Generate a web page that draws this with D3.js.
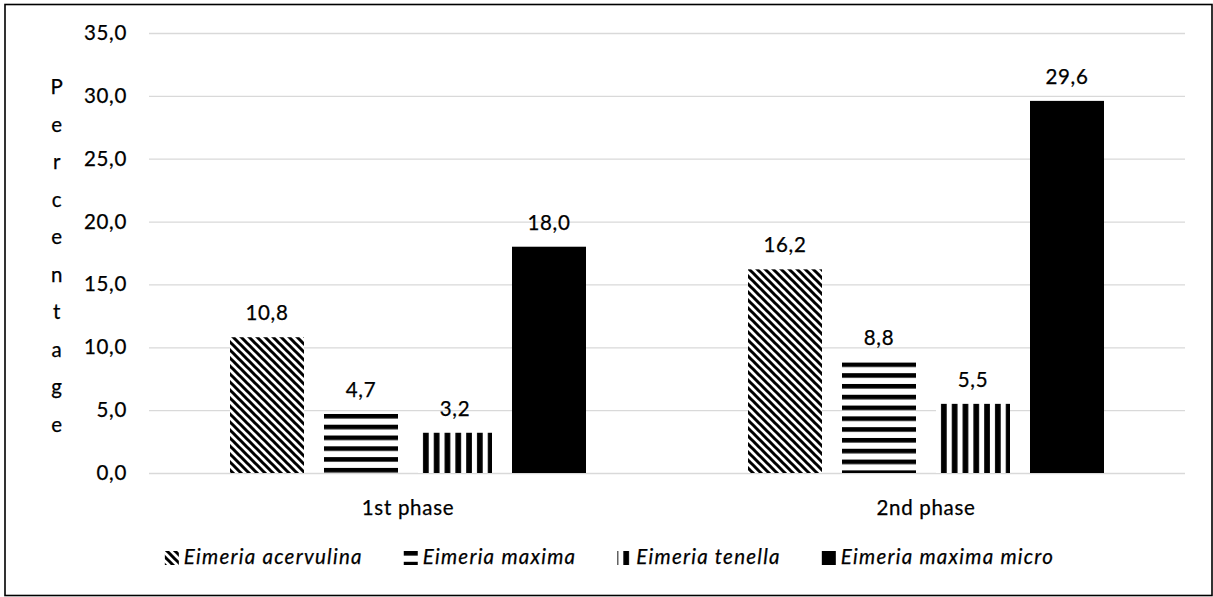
<!DOCTYPE html>
<html>
<head>
<meta charset="utf-8">
<script src="https://cdn.jsdelivr.net/npm/d3@7"></script>
<style>
  html, body { margin: 0; padding: 0; background: #fff; }
  svg { display: block; }
  text { font-family: Lato, "Open Sans", sans-serif; fill: #000; letter-spacing: 0.7px; stroke: #000; stroke-width: 0.25px; }
  .legend text { letter-spacing: 1.25px; }
</style>
</head>
<body>
<svg id="chart" width="1213" height="597"></svg>
<script>
// Chart data
const categories = ["1st phase", "2nd phase"];
const seriesNames = ["Eimeria acervulina", "Eimeria maxima", "Eimeria tenella", "Eimeria maxima micro"];
const acervulina = [10.8, 16.2];
const maxima = [4.7, 8.8];
const tenella = [3.2, 5.5];
const maximaMicro = [18.0, 29.6];
const yTicks = [0, 5, 10, 15, 20, 25, 30, 35];
const yTitle = "Percentage";

const seriesValues = [acervulina, maxima, tenella, maximaMicro];
const fills = ["diag", "horiz", "vert", "solid"];

const plot = { left: 149, right: 1185, top: 33, bottom: 473 };
const fontSize = 20.5;

const locale = d3.formatLocale({ decimal: ",", thousands: ".", grouping: [3], currency: ["", ""] });
const fmt = locale.format(".1f");

const svg = d3.select("#chart");
const defs = svg.append("defs");

// Outer frame
svg.append("rect")
  .attr("x", 5).attr("y", 4.5)
  .attr("width", 1207).attr("height", 591)
  .attr("fill", "#fff").attr("stroke", "#000").attr("stroke-width", 1.6);

const x0 = d3.scaleBand().domain(categories).range([plot.left, plot.right]);
const x1 = d3.scaleBand().domain(seriesNames).range([0, x0.bandwidth()])
  .paddingInner(20 / 94).paddingOuter(0.8617);
const y = d3.scaleLinear().domain([0, 35]).range([plot.bottom, plot.top]);

// Gridlines and value axis
const yAxis = d3.axisLeft(y)
  .tickValues(yTicks)
  .tickSize(-(plot.right - plot.left))
  .tickPadding(22)
  .tickFormat(fmt);
const gy = svg.append("g").attr("transform", `translate(${plot.left},0)`).call(yAxis);
gy.select(".domain").remove();
gy.selectAll(".tick line").attr("stroke", "#d9d9d9").attr("stroke-width", 1.3);
gy.selectAll(".tick text")
  .attr("font-size", fontSize).attr("font-family", "Lato, sans-serif").attr("fill", "#000");

// Vertical, letter-stacked axis title
svg.append("g").selectAll("text")
  .data(yTitle.split(""))
  .join("text")
  .attr("x", 57)
  .attr("y", (d, i) => 94 + i * 37.5)
  .attr("text-anchor", "middle")
  .attr("font-size", fontSize)
  .text(d => d);

// Category axis
const xAxis = d3.axisBottom(x0).tickSize(0).tickPadding(27);
const gx = svg.append("g").attr("transform", `translate(0,${plot.bottom})`).call(xAxis);
gx.select(".domain").remove();
gx.selectAll(".tick text")
  .attr("font-size", fontSize).attr("font-family", "Lato, sans-serif").attr("fill", "#000");

// Fill patterns
function diagPattern(id) {
  const p = defs.append("pattern").attr("id", id)
    .attr("patternUnits", "userSpaceOnUse").attr("width", 8).attr("height", 8);
  p.append("rect").attr("width", 8).attr("height", 8).attr("fill", "#fff");
  p.append("path").attr("d", "M-2,-2L10,10M-2,6L2,10M6,-2L10,2")
    .attr("stroke", "#000").attr("stroke-width", 3);
}
function horizPattern(id, oy) {
  const p = defs.append("pattern").attr("id", id)
    .attr("patternUnits", "userSpaceOnUse").attr("width", 10).attr("height", 10.8)
    .attr("patternTransform", `translate(0,${oy})`);
  p.append("rect").attr("width", 10).attr("height", 10.8).attr("fill", "#fff");
  p.append("rect").attr("width", 10).attr("height", 4.6).attr("fill", "#000");
}
function vertPattern(id, ox) {
  const p = defs.append("pattern").attr("id", id)
    .attr("patternUnits", "userSpaceOnUse").attr("width", 10.8).attr("height", 10)
    .attr("patternTransform", `translate(${ox},0)`);
  p.append("rect").attr("width", 10.8).attr("height", 10).attr("fill", "#fff");
  p.append("rect").attr("x", 5).attr("width", 5.7).attr("height", 10).attr("fill", "#000");
}
diagPattern("pat-diag");

function fillFor(kind, id, bx, by) {
  if (kind === "solid") return "#000";
  if (kind === "diag") return "url(#pat-diag)";
  if (kind === "horiz") { horizPattern(id, by); return `url(#${id})`; }
  vertPattern(id, bx); return `url(#${id})`;
}

// Bars
const barData = [];
categories.forEach((c, ci) => {
  seriesNames.forEach((s, si) => {
    barData.push({ cat: c, series: s, si, value: seriesValues[si][ci] });
  });
});

const bars = svg.append("g");
barData.forEach((d, i) => {
  const bx = x0(d.cat) + x1(d.series);
  const by = y(d.value);
  bars.append("rect")
    .attr("x", bx).attr("y", by)
    .attr("width", x1.bandwidth())
    .attr("height", y(0) - by)
    .attr("fill", fillFor(fills[d.si], `pat-bar-${i}`, bx, by));
});

// Value labels
svg.append("g").selectAll("text")
  .data(barData)
  .join("text")
  .attr("x", d => x0(d.cat) + x1(d.series) + x1.bandwidth() / 2)
  .attr("y", d => y(d.value) - 17)
  .attr("text-anchor", "middle")
  .attr("font-size", fontSize)
  .text(d => fmt(d.value));

// Legend
const legend = svg.append("g").attr("class", "legend");
const sw = 14, textGap = 5, itemGap = 41, legendBaseline = 564;
const items = seriesNames.map((name, i) => {
  const g = legend.append("g");
  const t = g.append("text")
    .attr("font-size", fontSize)
    .attr("font-style", "italic")
    .attr("y", legendBaseline)
    .text(name);
  return { g, t, w: t.node().getComputedTextLength(), i };
});
const total = d3.sum(items, d => sw + textGap + d.w) + itemGap * (items.length - 1);
let cx = 609.5 - total / 2;
items.forEach(d => {
  const sx = cx, sy = legendBaseline - 13;
  d.g.insert("rect", "text")
    .attr("x", sx).attr("y", sy).attr("width", sw).attr("height", sw)
    .attr("stroke", "none")
    .attr("fill", fillFor(fills[d.i], `pat-leg-${d.i}`, sx + 1, sy));
  d.t.attr("x", sx + sw + textGap);
  cx += sw + textGap + d.w + itemGap;
});
</script>
</body>
</html>
